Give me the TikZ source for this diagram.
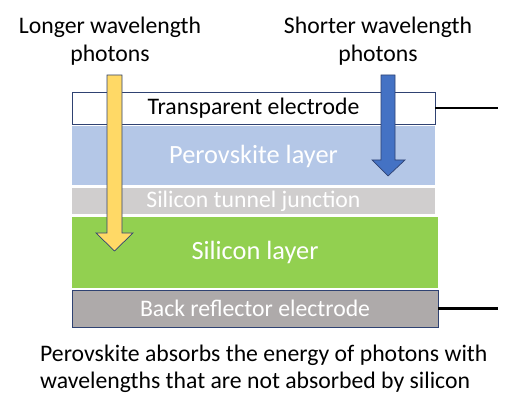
\documentclass[tikz,border=0pt]{standalone}
\usepackage{fontspec}
\setmainfont{Carlito}
\definecolor{edgeblue}{HTML}{2F4272}
\definecolor{perovblue}{HTML}{B4C7E7}
\definecolor{tunnelgray}{HTML}{D0CECE}
\definecolor{silicongreen}{HTML}{92D050}
\definecolor{backgray}{HTML}{AEAAAA}
\definecolor{longyellow}{HTML}{FFD966}
\definecolor{shortblue}{HTML}{4472C4}
\tikzset{
    layer/.style={minimum width=7.26cm, inner sep=0pt, text=white, font=\fontsize{13.5}{16}\selectfont},
    biglayer/.style={layer, font=\fontsize{15}{18}\selectfont},
    label/.style={align=center, font=\fontsize{13.5}{15.9}\selectfont},
}
\begin{document}
\begin{tikzpicture}
        \useasboundingbox (0,0) rectangle (10.28,8.12);
        % layers of the cell
        \node[layer, fill=white, draw=edgeblue, text=black, minimum height=0.64cm] (trans) at (5.07,5.96) {Transparent electrode};
        \node[biglayer, fill=perovblue, minimum height=1.18cm] (perov) at (5.07,5.00) {Perovskite layer};
        \node[layer, fill=tunnelgray, minimum height=0.52cm] (tunnel) at (5.07,4.10) {Silicon tunnel junction};
        \node[biglayer, fill=silicongreen, minimum width=7.32cm, minimum height=1.42cm] (silicon) at (5.10,3.07) {Silicon layer};
        \node[layer, fill=backgray, draw=edgeblue, minimum width=7.32cm, minimum height=0.74cm] (back) at (5.10,1.95) {Back reflector electrode};
        % contacts
        \coordinate (topend) at (9.96,5.96);
        \coordinate (backend) at (9.96,1.95);
        \draw[black, line width=1.2pt] (trans.east) -- (topend);
        \draw[black, line width=1.2pt] (back.east) -- (backend);
        % photon arrows
        \filldraw[fill=longyellow, draw=edgeblue] (2.14,6.62) -- (2.44,6.62) -- (2.44,3.46) -- (2.66,3.46) -- (2.29,3.10) -- (1.92,3.46) -- (2.14,3.46) -- cycle;
        \filldraw[fill=shortblue, draw=edgeblue] (7.62,6.62) -- (7.90,6.62) -- (7.90,4.92) -- (8.10,4.92) -- (7.76,4.60) -- (7.44,4.92) -- (7.62,4.92) -- cycle;
        % texts
        \node[label] (longtext) at (2.20,7.30) {Longer wavelength\\photons};
        \node[label] (shorttext) at (7.56,7.30) {Shorter wavelength\\photons};
        \node[label, align=left, anchor=west, font=\fontsize{13.5}{15.4}\selectfont] (caption) at (0.68,0.75) {Perovskite absorbs the energy of photons with\\wavelengths that are not absorbed by silicon};
    \end{tikzpicture}
\end{document}
